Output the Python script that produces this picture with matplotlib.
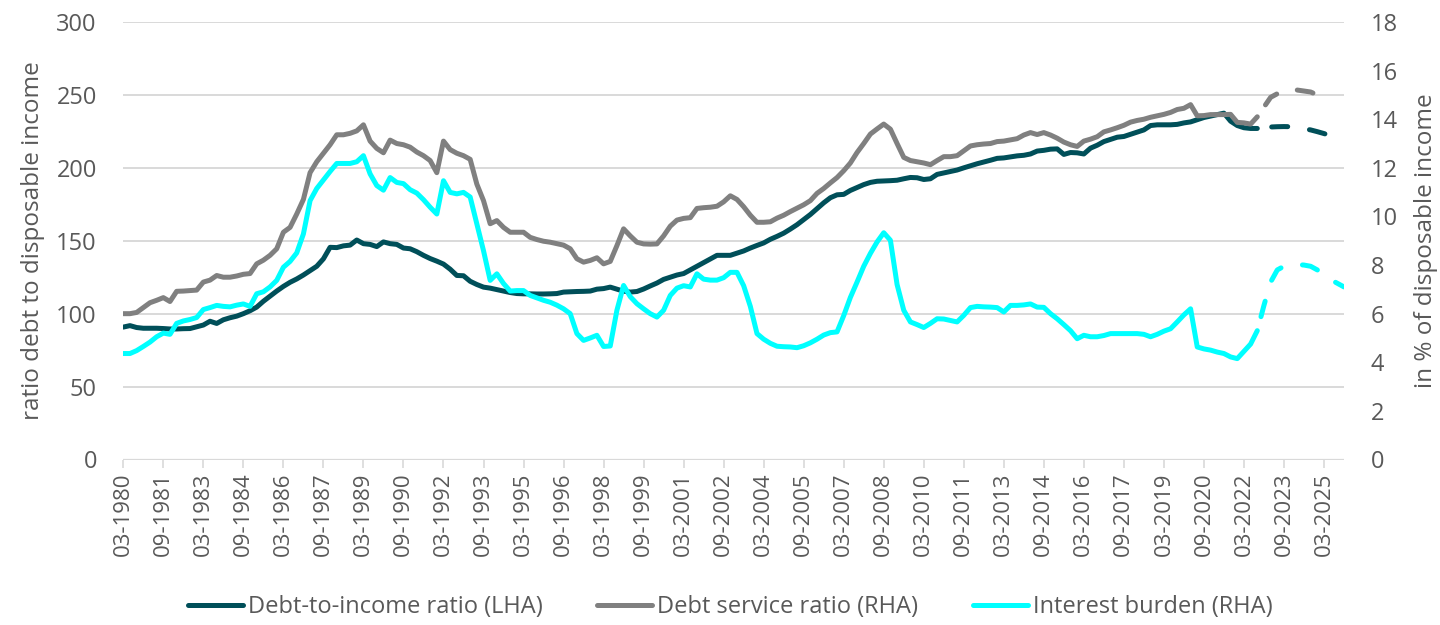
import matplotlib.pyplot as plt
import numpy as np

plt.rcParams['font.family'] = ['Open Sans', 'DejaVu Sans']

# quarterly data, 03-1980 onwards; from 09-2022 on the values are forecasts (dashed)
dti = [
    90.8, 91.8, 90.5, 90.0,
    90.0, 90.0, 89.8, 89.5,
    89.5, 89.7, 89.8, 91.0,
    92.2, 94.8, 93.3, 95.8,
    97.2, 98.3, 100.0, 102.0,
    104.5, 108.5, 112.0, 115.5,
    118.7, 121.5, 123.8, 126.5,
    129.5, 132.5, 137.6, 145.5,
    145.3, 146.5, 147.0, 150.5,
    148.0, 147.5, 146.0, 149.2,
    148.0, 147.5, 145.0, 144.5,
    142.5, 140.0, 137.8, 136.0,
    134.0, 130.5, 126.2, 126.0,
    122.2, 120.0, 118.2, 117.5,
    116.5, 115.5, 114.5, 113.8,
    113.6, 113.6, 113.5, 113.5,
    113.6, 113.8, 114.8, 115.0,
    115.2, 115.3, 115.5, 116.8,
    117.2, 118.2, 116.8, 115.4,
    114.8, 115.2, 116.9, 119.0,
    121.0, 123.5, 125.0, 126.5,
    127.5, 130.0, 132.5, 135.0,
    137.5, 140.0, 140.0, 140.0,
    141.5, 143.0, 145.0, 146.8,
    148.5, 151.0, 153.0, 155.2,
    158.0, 161.0, 164.5, 168.0,
    172.0, 176.0, 179.5, 181.5,
    181.8, 184.5, 186.5, 188.5,
    190.0, 190.8, 191.0, 191.2,
    191.5, 192.5, 193.4, 193.2,
    192.0, 192.5, 195.5, 196.5,
    197.5, 198.5, 200.0, 201.4,
    202.8, 204.0, 205.2, 206.5,
    206.8, 207.5, 208.2, 208.6,
    209.5, 211.5, 212.0, 212.8,
    213.0, 209.2, 210.5, 210.3,
    209.5, 213.5, 215.5, 218.0,
    219.5, 221.0, 221.5, 223.0,
    224.5, 226.0, 229.0, 229.5,
    229.5, 229.5, 229.8, 230.8,
    231.5, 233.0, 234.5, 235.5,
    236.5, 237.5, 232.0, 229.0,
    227.5, 227.0, 227.0, 227.5,
    228.0, 228.2, 228.3, 228.2,
    227.5, 226.8, 226.0, 224.8,
    223.5, 222.0,
]

dsr = [
    6.0, 6.0, 6.05, 6.25,
    6.45, 6.55, 6.66, 6.5,
    6.92, 6.93, 6.95, 6.97,
    7.3, 7.38, 7.57, 7.5,
    7.5, 7.55, 7.62, 7.65,
    8.05, 8.2, 8.4, 8.67,
    9.35, 9.55, 10.1, 10.7,
    11.8, 12.25, 12.6, 12.95,
    13.36, 13.36, 13.42, 13.52,
    13.77, 13.1, 12.8, 12.62,
    13.14, 13.0, 12.95, 12.85,
    12.65, 12.5, 12.3, 11.8,
    13.1, 12.75, 12.6, 12.5,
    12.35, 11.33, 10.65, 9.7,
    9.83, 9.55, 9.35, 9.35,
    9.35, 9.14, 9.05, 8.98,
    8.94, 8.88, 8.82, 8.67,
    8.26, 8.12, 8.19, 8.3,
    8.05, 8.15, 8.8, 9.49,
    9.2, 8.94, 8.87, 8.86,
    8.87, 9.2, 9.6, 9.85,
    9.92, 9.95, 10.33, 10.36,
    10.38, 10.42, 10.6, 10.85,
    10.7, 10.4, 10.05, 9.76,
    9.76, 9.78, 9.93, 10.05,
    10.2, 10.34, 10.48, 10.65,
    10.95, 11.15, 11.38, 11.6,
    11.88, 12.2, 12.63, 13.0,
    13.39, 13.6, 13.8, 13.59,
    13.0, 12.43, 12.3, 12.25,
    12.2, 12.13, 12.3, 12.46,
    12.46, 12.5, 12.7, 12.9,
    12.95, 12.98, 13.0, 13.08,
    13.1, 13.15, 13.2, 13.35,
    13.45, 13.37, 13.45, 13.35,
    13.22, 13.06, 12.95, 12.88,
    13.1, 13.18, 13.28, 13.48,
    13.56, 13.65, 13.75, 13.88,
    13.95, 14.0, 14.08, 14.14,
    14.2, 14.28, 14.4, 14.45,
    14.6, 14.14, 14.15, 14.19,
    14.19, 14.19, 14.2, 13.87,
    13.85, 13.8, 14.1, 14.5,
    14.9, 15.05, 15.23, 15.22,
    15.2, 15.16, 15.12, 15.0,
    14.85,
]

interest = [
    4.36, 4.36, 4.48, 4.65,
    4.83, 5.05, 5.2, 5.15,
    5.6, 5.7, 5.76, 5.84,
    6.17, 6.25, 6.34, 6.3,
    6.28, 6.35, 6.4, 6.3,
    6.82, 6.9, 7.1, 7.37,
    7.91, 8.15, 8.5, 9.28,
    10.65, 11.15, 11.5, 11.85,
    12.18, 12.18, 12.18, 12.25,
    12.5, 11.75, 11.27, 11.08,
    11.6, 11.4, 11.35, 11.1,
    10.96, 10.69, 10.38, 10.1,
    11.47, 10.99, 10.93, 10.99,
    10.8, 9.7, 8.59, 7.37,
    7.64, 7.24, 6.93, 6.95,
    6.95, 6.75, 6.65, 6.55,
    6.47, 6.35, 6.2, 6.0,
    5.18, 4.9, 5.0, 5.11,
    4.65, 4.67, 6.14, 7.16,
    6.7, 6.41, 6.2, 6.0,
    5.86, 6.14, 6.75, 7.05,
    7.15, 7.1, 7.64, 7.42,
    7.38, 7.38, 7.48, 7.7,
    7.7, 7.15, 6.3, 5.18,
    4.95, 4.78, 4.66, 4.64,
    4.63, 4.6, 4.68, 4.8,
    4.95, 5.12, 5.22, 5.25,
    5.92, 6.67, 7.3, 7.95,
    8.48, 8.95, 9.33, 9.02,
    7.2, 6.14, 5.66, 5.55,
    5.43, 5.6, 5.79, 5.78,
    5.72, 5.66, 5.93, 6.25,
    6.3, 6.28, 6.27, 6.25,
    6.07, 6.34, 6.34, 6.36,
    6.4, 6.27, 6.26, 6.0,
    5.79, 5.55, 5.3, 4.97,
    5.11, 5.05, 5.05, 5.1,
    5.18, 5.18, 5.18, 5.18,
    5.18, 5.15, 5.05, 5.15,
    5.28, 5.38, 5.66, 5.95,
    6.2, 4.63, 4.55, 4.5,
    4.42, 4.36, 4.22, 4.15,
    4.45, 4.75, 5.3, 6.34,
    7.3, 7.8, 7.95, 8.0,
    8.02, 8.0, 7.95, 7.8,
    7.6, 7.4, 7.25, 7.1,
]

tick_labels = ['03-1980', '09-1981', '03-1983', '09-1984', '03-1986', '09-1987',
               '03-1989', '09-1990', '03-1992', '09-1993', '03-1995', '09-1996',
               '03-1998', '09-1999', '03-2001', '09-2002', '03-2004', '09-2005',
               '03-2007', '09-2008', '03-2010', '09-2011', '03-2013', '09-2014',
               '03-2016', '09-2017', '03-2019', '09-2020', '03-2022', '09-2023',
               '03-2025']

n_quarters = 184
last_actual = 170  # 09-2022

c_dti = '#004f59'
c_dsr = '#808080'
c_ib = '#00ffff'
txt = '#595959'
grid_c = '#d9d9d9'
lw = 3.6

fig = plt.figure(figsize=(14.4, 6.25), dpi=100)
ax = fig.add_axes([123.3 / 1440, 1 - 459.5 / 625, (1344 - 123.3) / 1440, (459.5 - 22) / 625])
ax2 = ax.twinx()


def draw(axis, vals, color, label):
    xs = np.arange(len(vals))
    v = np.array(vals)
    h, = axis.plot(xs[:last_actual + 1], v[:last_actual + 1], color=color, lw=lw,
                   solid_joinstyle='round', solid_capstyle='round', label=label)
    # forecast part, dash pattern starts inside a gap like the original
    axis.plot(xs[last_actual:], v[last_actual:], color=color, lw=lw,
              linestyle=(4.7, (3.2, 4.4)), dash_capstyle='round', dash_joinstyle='round')
    return h


h1 = draw(ax, dti, c_dti, 'Debt-to-income ratio (LHA)')
h2 = draw(ax2, dsr, c_dsr, 'Debt service ratio (RHA)')
h3 = draw(ax2, interest, c_ib, 'Interest burden (RHA)')

ax.set_xlim(0, n_quarters - 1)
ax.set_ylim(0, 300)
ax2.set_ylim(0, 18)
ax.set_yticks(np.arange(0, 301, 50))
ax2.set_yticks(np.arange(0, 19, 2))
ax.grid(axis='y', color=grid_c, lw=1.4)
ax.set_axisbelow(True)

ax.set_xticks(np.arange(0, n_quarters, 6))
ax.set_xticklabels(tick_labels, rotation=90)
ax.tick_params(axis='x', length=5.5, width=1.2, color=grid_c, labelcolor=txt,
               labelsize=16, pad=4)
ax.tick_params(axis='y', length=0, labelcolor=txt, labelsize=17, pad=19)
ax2.tick_params(axis='y', length=0, labelcolor=txt, labelsize=17, pad=19)

for a in (ax, ax2):
    for s in ('top', 'left', 'right', 'bottom'):
        a.spines[s].set_visible(False)
ax.axhline(0, color=grid_c, lw=1.6, zorder=1)

ax.set_ylabel('ratio debt to disposable income', color=txt, fontsize=17.5, labelpad=8)
ax2.set_ylabel('in % of disposable income', color=txt, fontsize=17.5, labelpad=12)

fig.legend([h1, h2, h3], [h1.get_label(), h2.get_label(), h3.get_label()],
           loc='center', bbox_to_anchor=(0.507, 0.029), ncol=3, frameon=False,
           fontsize=17, labelcolor=txt, handlelength=2.33, handletextpad=0.2,
           columnspacing=2.33)

fig.savefig('out.png', dpi=100)
